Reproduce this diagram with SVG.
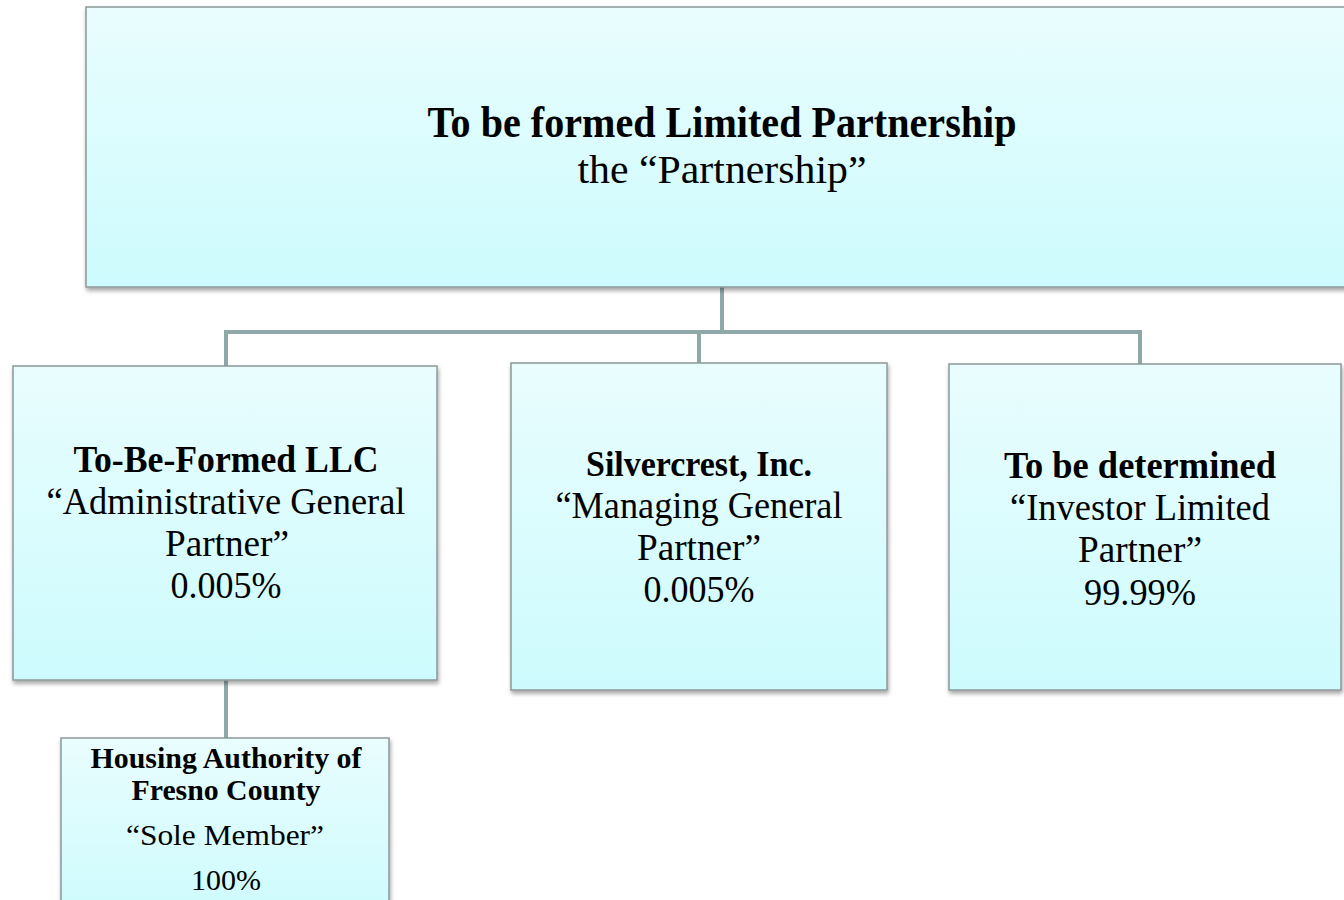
<svg xmlns="http://www.w3.org/2000/svg" width="1344" height="900" viewBox="0 0 1344 900">
<style>
.box{fill:url(#g);stroke:#8c9898;stroke-width:1.5;filter:url(#sh)}
.t{font-family:"Liberation Serif","Times New Roman",serif;fill:#000;text-anchor:middle}
.b{font-weight:bold}
.con{fill:none;stroke:#8fa9ab;stroke-width:4}
</style>
<defs>
<linearGradient id="g" x1="0" y1="0" x2="0" y2="1">
<stop offset="0" stop-color="#e9fdfe"/>
<stop offset="1" stop-color="#cdfbfd"/>
</linearGradient>
<filter id="sh" x="-5%" y="-5%" width="115%" height="115%">
<feDropShadow dx="1" dy="3" stdDeviation="2" flood-color="#000" flood-opacity="0.35"/>
</filter>
</defs>
<rect width="1344" height="900" fill="#fff"/>
<g id="connectors">
<path class="con" d="M722,287 V330"/>
<path class="con" d="M226,366 V332 H1140 V364"/>
<path class="con" d="M699,332 V364"/>
<path class="con" d="M226,680 V738"/>
</g>
<g id="top">
<rect class="box" x="86" y="7" width="1270" height="280"/>
<text class="t b" x="722" y="137" font-size="44" textLength="589" lengthAdjust="spacingAndGlyphs">To be formed Limited Partnership</text>
<text class="t" x="722" y="183" font-size="40" textLength="289" lengthAdjust="spacingAndGlyphs">the “Partnership”</text>
</g>
<g id="llc">
<rect class="box" x="13" y="366" width="424" height="314"/>
<text class="t b" x="226" y="472" font-size="38" textLength="305" lengthAdjust="spacingAndGlyphs">To-Be-Formed LLC</text>
<text class="t" x="226" y="514" font-size="38" textLength="359" lengthAdjust="spacingAndGlyphs">“Administrative General</text>
<text class="t" x="227" y="556" font-size="38" textLength="124" lengthAdjust="spacingAndGlyphs">Partner”</text>
<text class="t" x="226" y="598" font-size="38" textLength="111" lengthAdjust="spacingAndGlyphs">0.005%</text>
</g>
<g id="silvercrest">
<rect class="box" x="511" y="363" width="376" height="327"/>
<text class="t b" x="699" y="476" font-size="36" textLength="226" lengthAdjust="spacingAndGlyphs">Silvercrest, Inc.</text>
<text class="t" x="699" y="518" font-size="38" textLength="287" lengthAdjust="spacingAndGlyphs">“Managing General</text>
<text class="t" x="699" y="560" font-size="38" textLength="124" lengthAdjust="spacingAndGlyphs">Partner”</text>
<text class="t" x="699" y="602" font-size="38" textLength="111" lengthAdjust="spacingAndGlyphs">0.005%</text>
</g>
<g id="investor">
<rect class="box" x="949" y="364" width="392" height="326"/>
<text class="t b" x="1140" y="478" font-size="38" textLength="272" lengthAdjust="spacingAndGlyphs">To be determined</text>
<text class="t" x="1140" y="520" font-size="38" textLength="260" lengthAdjust="spacingAndGlyphs">“Investor Limited</text>
<text class="t" x="1140" y="562" font-size="38" textLength="124" lengthAdjust="spacingAndGlyphs">Partner”</text>
<text class="t" x="1140" y="605" font-size="38" textLength="112" lengthAdjust="spacingAndGlyphs">99.99%</text>
</g>
<g id="housing">
<rect class="box" x="61" y="738" width="328" height="180"/>
<text class="t b" x="226" y="768" font-size="30" textLength="271" lengthAdjust="spacingAndGlyphs">Housing Authority of</text>
<text class="t b" x="226" y="800" font-size="30" textLength="189" lengthAdjust="spacingAndGlyphs">Fresno County</text>
<text class="t" x="225" y="845" font-size="30" textLength="198" lengthAdjust="spacingAndGlyphs">“Sole Member”</text>
<text class="t" x="226" y="890" font-size="30" textLength="70" lengthAdjust="spacingAndGlyphs">100%</text>
</g>
</svg>
